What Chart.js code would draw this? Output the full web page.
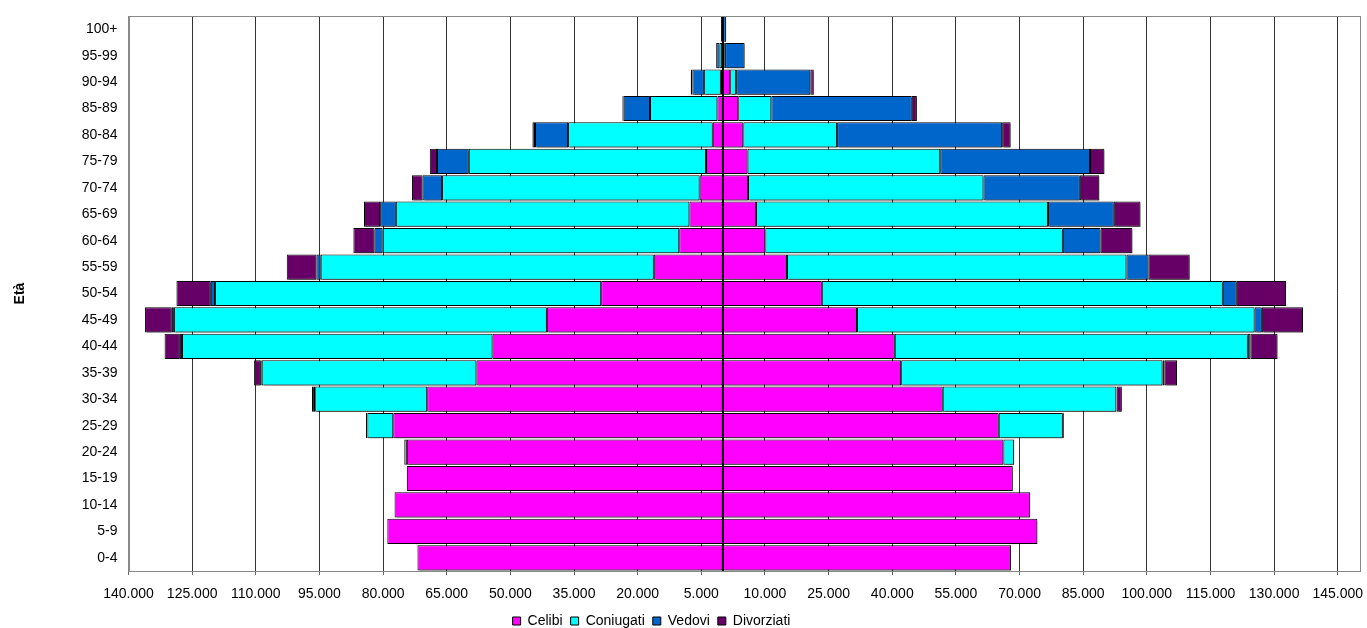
<!DOCTYPE html>
<html>
<head>
<meta charset="utf-8">
<script src="https://cdn.jsdelivr.net/npm/chart.js@4.4.1/dist/chart.umd.min.js"></script>
<style>
html,body{margin:0;padding:0;background:#fff;overflow:hidden;}
#wrap{width:1367px;height:628px;position:relative;}
</style>
</head>
<body>
<div id="wrap"><canvas id="c" width="1367" height="628"></canvas></div>
<script>
const ageGroups = ['0-4','5-9','10-14','15-19','20-24','25-29','30-34','35-39','40-44','45-49','50-54','55-59','60-64','65-69','70-74','75-79','80-84','85-89','90-94','95-99','100+'];
const seriesNames = ['Celibi','Coniugati','Vedovi','Divorziati'];
const seriesColors = ['#FF00FF','#00FFFF','#0066CC','#660066'];

// Maschi (lato sinistro)
const maschiCelibi     = [71900,79000,77300,74400,74400,77600,69600,58000,54200,41400,28600,16200,10200,7800,5400,3900,2300,1200,400,100,50];
const maschiConiugati  = [0,0,0,50,600,6100,26400,50600,73200,87900,91000,78500,69900,69200,60700,55900,34100,15900,4000,600,50];
const maschiVedovi     = [0,0,0,0,0,20,50,200,500,500,1000,1000,1900,3700,4600,7500,7800,6200,2700,800,250];
const maschiDivorziati = [0,0,0,0,50,300,700,1600,3600,6300,8100,7000,5000,3800,2500,1700,600,300,400,30,10];

// Femmine (lato destro)
const femmineCelibi     = [68000,74200,72500,68400,66200,65100,51900,42100,40600,31700,23400,15200,10100,7900,6000,5900,4900,3700,1800,400,100];
const femmineConiugati  = [0,0,0,100,2500,15100,40900,61600,83200,93700,94500,80000,70100,68800,55500,45400,22100,7800,1400,200,50];
const femmineVedovi     = [0,0,0,0,0,50,100,500,600,1700,3300,5200,8900,15500,22700,35300,38900,33100,17500,4600,700];
const femmineDivorziati = [0,0,0,0,50,200,1200,2900,6400,9700,11600,9700,7500,6300,4600,3400,2000,1200,800,50,10];

const xTickValues = [-140000,-125000,-110000,-95000,-80000,-65000,-50000,-35000,-20000,-5000,10000,25000,40000,55000,70000,85000,100000,115000,130000,145000];
const xMin = -140000, xMax = 150000;
const yTitle = 'Età';

function fmt(v){
  const s = String(Math.abs(Math.round(v)));
  return s.replace(/\B(?=(\d{3})+(?!\d))/g, '.');
}

const maleSets = [maschiCelibi, maschiConiugati, maschiVedovi, maschiDivorziati];
const femaleSets = [femmineCelibi, femmineConiugati, femmineVedovi, femmineDivorziati];

const datasets = [];
maleSets.forEach((arr,i)=>{
  datasets.push({label: seriesNames[i], data: arr.map(v=>-v), backgroundColor: seriesColors[i], borderColor:'#000', borderWidth:1, stack:'p', borderSkipped:false});
});
femaleSets.forEach((arr,i)=>{
  datasets.push({label: seriesNames[i]+' F', data: arr, backgroundColor: seriesColors[i], borderColor:'#000', borderWidth:1, stack:'p', borderSkipped:false});
});

const FONT = 'Liberation Sans, Arial, sans-serif';

const framePlugin = {
  id:'frame',
  afterLayout(chart){
    const lg = chart.legend;
    if (lg) { lg.left -= 28; lg.right -= 28; }
  },
  beforeDatasetsDraw(chart){
    const ctx = chart.ctx;
    ctx.save();
    ctx.shadowColor = 'rgba(0,0,0,0.35)';
    ctx.shadowOffsetX = 2;
    ctx.shadowOffsetY = 2;
    ctx.shadowBlur = 0;
  },
  afterDatasetsDraw(chart){
    const ctx = chart.ctx;
    ctx.restore();
    const a = chart.chartArea;
    const x0 = Math.round(chart.scales.x.getPixelForValue(0));
    ctx.save();
    ctx.strokeStyle = '#000';
    ctx.lineWidth = 2;
    ctx.beginPath();
    ctx.moveTo(x0, a.top);
    ctx.lineTo(x0, a.bottom);
    ctx.stroke();
    ctx.strokeStyle = '#888';
    ctx.lineWidth = 1;
    ctx.strokeRect(Math.round(a.left)+0.5, Math.round(a.top)+0.5, Math.round(a.right-a.left), Math.round(a.bottom-a.top));
    ctx.restore();
  }
};

new Chart(document.getElementById('c'), {
  type:'bar',
  data:{labels: ageGroups, datasets},
  options:{
    indexAxis:'y',
    responsive:false,
    animation:false,
    layout:{padding:{left:0,right:8,top:16,bottom:-10}},
    datasets:{bar:{categoryPercentage:1, barPercentage:0.955}},
    scales:{
      x:{
        type:'linear', stacked:true, min:xMin, max:xMax,
        afterBuildTicks(scale){ scale.ticks = xTickValues.map(v=>({value:v})); },
        afterFit(scale){ scale.height = 35; scale.paddingLeft = 0; scale.paddingRight = 0; },
        ticks:{callback:(v)=>fmt(v), color:'#000', font:{family:FONT, size:14}, maxRotation:0, autoSkip:false, padding:11},
        grid:{color:'#333', lineWidth:1, drawTicks:true, tickLength:4, tickColor:'#666'},
        border:{display:true, color:'#888'}
      },
      y:{
        stacked:true, reverse:true,
        afterFit(scale){ scale.width = 128.5; scale.paddingTop = 0; scale.paddingBottom = 0; },
        ticks:{color:'#000', font:{family:FONT, size:14}, padding:11},
        grid:{display:false, drawTicks:false},
        border:{display:true, color:'#888'},
        title:{display:true, text:yTitle, color:'#000', font:{family:FONT, size:14, weight:'bold'}, padding:{top:12,bottom:0}}
      }
    },
    plugins:{
      tooltip:{enabled:false},
      legend:{
        position:'bottom',
        labels:{
          filter:(item)=>item.datasetIndex<4,
          boxWidth:8, boxHeight:8, padding:8, color:'#000',
          font:{family:FONT, size:14}
        }
      }
    }
  },
  plugins:[framePlugin]
});
</script>
</body>
</html>
